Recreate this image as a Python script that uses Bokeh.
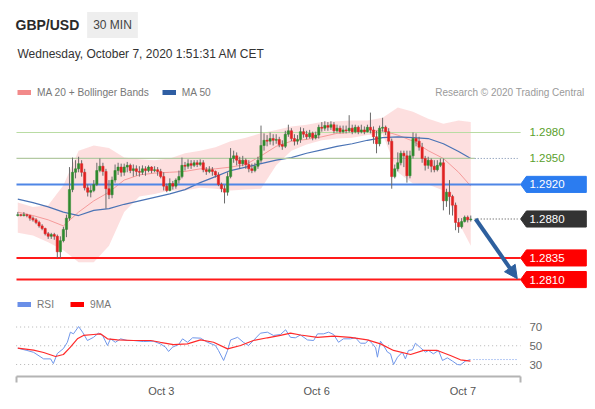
from bokeh.plotting import figure
from bokeh.models import (Range1d, LinearAxis, FixedTicker, Label, Legend, LegendItem,
                          Arrow, NormalHead, ColumnDataSource)
from bokeh.core.properties import value
from bokeh.embed import file_html
from bokeh.resources import INLINE

FONT = "Liberation Sans"

# ---------------- data (30-min candles, GBP/USD) ----------------
first_open = 1.2884
closes = [1.2885, 1.2884, 1.2885, 1.2884, 1.2881, 1.2879, 1.2876, 1.2872, 1.2869, 1.2863,
          1.2860, 1.2862, 1.2860, 1.2842, 1.2855, 1.2868, 1.2881, 1.2914, 1.2934, 1.2938,
          1.2944, 1.2934, 1.2916, 1.2911, 1.2913, 1.2920, 1.2936, 1.2941, 1.2935, 1.2915,
          1.2908, 1.2925, 1.2936, 1.2940, 1.2934, 1.2940, 1.2942, 1.2936, 1.2938, 1.2935,
          1.2934, 1.2938, 1.2936, 1.2940, 1.2936, 1.2937, 1.2935, 1.2929, 1.2918, 1.2913,
          1.2921, 1.2918, 1.2925, 1.2929, 1.2942, 1.2941, 1.2944, 1.2942, 1.2945, 1.2943,
          1.2945, 1.2937, 1.2935, 1.2937, 1.2935, 1.2931, 1.2920, 1.2915, 1.2911, 1.2929,
          1.2950, 1.2953, 1.2948, 1.2944, 1.2948, 1.2943, 1.2938, 1.2936, 1.2941, 1.2948,
          1.2965, 1.2971, 1.2970, 1.2973, 1.2971, 1.2972, 1.2966, 1.2964, 1.2978, 1.2982,
          1.2973, 1.2970, 1.2972, 1.2981, 1.2978, 1.2975, 1.2979, 1.2974, 1.2977, 1.2986,
          1.2985, 1.2988, 1.2986, 1.2989, 1.2982, 1.2985, 1.2981, 1.2983, 1.2982, 1.2985,
          1.2981, 1.2986, 1.2981, 1.2983, 1.2981, 1.2986, 1.2983, 1.2975, 1.2967, 1.2985,
          1.2986, 1.2981, 1.2970, 1.2929, 1.2938, 1.2945, 1.2956, 1.2953, 1.2930, 1.2953,
          1.2973, 1.2970, 1.2963, 1.2950, 1.2942, 1.2948, 1.2941, 1.2937, 1.2942, 1.2945,
          1.2901, 1.2911, 1.2906, 1.2896, 1.2876, 1.2871, 1.2877, 1.2882, 1.2879, 1.2880]
highs = [1.2888, 1.2886, 1.2888, 1.2886, 1.2885, 1.2883, 1.2881, 1.2878, 1.2874, 1.2870,
         1.2865, 1.2864, 1.2864, 1.2862, 1.2860, 1.2871, 1.2885, 1.2940, 1.2951, 1.2948,
         1.2952, 1.2948, 1.2938, 1.2920, 1.2919, 1.2925, 1.2945, 1.2950, 1.2945, 1.2938,
         1.2925, 1.2929, 1.2943, 1.2945, 1.2944, 1.2944, 1.2946, 1.2944, 1.2943, 1.2942,
         1.2941, 1.2942, 1.2941, 1.2942, 1.2941, 1.2941, 1.2940, 1.2938, 1.2934, 1.2921,
         1.2927, 1.2924, 1.2927, 1.2936, 1.2951, 1.2946, 1.2949, 1.2948, 1.2948, 1.2948,
         1.2949, 1.2948, 1.2940, 1.2941, 1.2940, 1.2936, 1.2934, 1.2922, 1.2919, 1.2934,
         1.2962, 1.2959, 1.2957, 1.2952, 1.2953, 1.2950, 1.2948, 1.2944, 1.2945, 1.2952,
         1.2988, 1.2979, 1.2977, 1.2980, 1.2978, 1.2978, 1.2975, 1.2971, 1.2982, 1.2989,
         1.2985, 1.2978, 1.2977, 1.2986, 1.2985, 1.2982, 1.2983, 1.2981, 1.2981, 1.2989,
         1.2992, 1.2993, 1.2992, 1.2993, 1.2992, 1.2989, 1.2988, 1.2988, 1.2988, 1.3000,
         1.2989, 1.2989, 1.2988, 1.2989, 1.2987, 1.2989, 1.3003, 1.2987, 1.2982, 1.2988,
         1.2997, 1.2988, 1.2985, 1.2973, 1.2943, 1.2957, 1.2959, 1.2959, 1.2959, 1.2959,
         1.2980, 1.2979, 1.2975, 1.2968, 1.2953, 1.2952, 1.2950, 1.2948, 1.2948, 1.2950,
         1.2950, 1.2915, 1.2925, 1.2908, 1.2899, 1.2881, 1.2881, 1.2884, 1.2884, 1.2884]
lows = [1.2883, 1.2883, 1.2883, 1.2882, 1.2878, 1.2877, 1.2874, 1.2870, 1.2867, 1.2861,
        1.2857, 1.2857, 1.2856, 1.2835, 1.2835, 1.2853, 1.2859, 1.2878, 1.2911, 1.2927,
        1.2934, 1.2929, 1.2913, 1.2906, 1.2905, 1.2911, 1.2918, 1.2934, 1.2930, 1.2892,
        1.2903, 1.2904, 1.2922, 1.2931, 1.2929, 1.2930, 1.2934, 1.2933, 1.2929, 1.2930,
        1.2929, 1.2931, 1.2930, 1.2934, 1.2933, 1.2934, 1.2930, 1.2927, 1.2913, 1.2911,
        1.2912, 1.2914, 1.2915, 1.2921, 1.2927, 1.2936, 1.2938, 1.2938, 1.2940, 1.2940,
        1.2941, 1.2934, 1.2931, 1.2933, 1.2930, 1.2928, 1.2918, 1.2911, 1.2898, 1.2907,
        1.2927, 1.2945, 1.2942, 1.2938, 1.2941, 1.2938, 1.2934, 1.2933, 1.2934, 1.2938,
        1.2945, 1.2959, 1.2964, 1.2966, 1.2965, 1.2967, 1.2963, 1.2960, 1.2962, 1.2975,
        1.2970, 1.2965, 1.2966, 1.2968, 1.2974, 1.2972, 1.2973, 1.2971, 1.2972, 1.2973,
        1.2981, 1.2982, 1.2982, 1.2983, 1.2979, 1.2980, 1.2979, 1.2979, 1.2979, 1.2980,
        1.2978, 1.2979, 1.2978, 1.2979, 1.2978, 1.2980, 1.2979, 1.2967, 1.2956, 1.2964,
        1.2981, 1.2977, 1.2966, 1.2915, 1.2927, 1.2935, 1.2942, 1.2940, 1.2922, 1.2927,
        1.2950, 1.2964, 1.2959, 1.2945, 1.2936, 1.2938, 1.2934, 1.2934, 1.2935, 1.2940,
        1.2890, 1.2894, 1.2885, 1.2884, 1.2867, 1.2864, 1.2869, 1.2876, 1.2876, 1.2877]
opens = [first_open] + closes[:-1]

# moving averages / Bollinger bands sampled every 5 candles
band_idx = [0, 5, 10, 15, 20, 25, 30, 35, 40, 45, 50, 55, 60, 65, 70, 75, 80, 85, 90, 95,
            100, 105, 110, 115, 120, 125, 130, 135, 140, 145, 149]
ma20 = [1.2888, 1.2884, 1.2879, 1.2872, 1.2888, 1.2901, 1.2911, 1.2925, 1.2931, 1.2933,
        1.2934, 1.2935, 1.2938, 1.2938, 1.2940, 1.2943, 1.2953, 1.2964, 1.2970, 1.2972,
        1.2975, 1.2979, 1.2980, 1.2982, 1.2982, 1.2977, 1.2970, 1.2959, 1.2950, 1.2934, 1.2918]
ma50 = [1.2903, 1.2899, 1.2894, 1.2888, 1.2884, 1.2890, 1.2892, 1.2897, 1.2901, 1.2905,
        1.2909, 1.2914, 1.2922, 1.2929, 1.2936, 1.2940, 1.2944, 1.2948, 1.2951, 1.2956,
        1.2960, 1.2964, 1.2967, 1.2971, 1.2974, 1.2975, 1.2974, 1.2973, 1.2967, 1.2958, 1.2950]
bb_upper = [1.2899, 1.2894, 1.2896, 1.2919, 1.2959, 1.2965, 1.2962, 1.2951, 1.2949, 1.2948,
            1.2950, 1.2956, 1.2959, 1.2963, 1.2970, 1.2974, 1.2979, 1.2983, 1.2987, 1.2989,
            1.2992, 1.2993, 1.2994, 1.2994, 1.2997, 1.3009, 1.3004, 1.2996, 1.2990, 1.2994, 1.2992]
bb_lower = [1.2864, 1.2861, 1.2853, 1.2844, 1.2830, 1.2830, 1.2849, 1.2888, 1.2906, 1.2909,
            1.2913, 1.2913, 1.2916, 1.2915, 1.2913, 1.2914, 1.2915, 1.2942, 1.2959, 1.2966,
            1.2971, 1.2973, 1.2974, 1.2977, 1.2978, 1.2934, 1.2921, 1.2920, 1.2913, 1.2876, 1.2849]

# RSI panel
rsi_idx = [0, 3, 5.2, 8.5, 10.8, 11.7, 13, 15, 16.3, 17.3, 18.3, 20, 21.3, 22.9, 24.9, 26.5,
           27.9, 29.5, 30.5, 32.1, 33.8, 36, 38, 41.3, 44.6, 46.9, 48.6, 49.6, 50.9, 52.9,
           54.2, 55.8, 57.5, 60.1, 62.4, 65, 66, 67.7, 69, 70, 72.3, 74.2, 75.9, 77.5, 79.8,
           82.1, 84.1, 86.4, 88.1, 89.7, 91.3, 93, 95.3, 97.3, 98.6, 100.6, 102.2, 103.9,
           105.5, 107.1, 109.4, 111.1, 112.7, 114.4, 115.4, 116.7, 117.7, 118.3, 119.3, 120.3,
           121.6, 122.6, 123.6, 124.9, 126.5, 127.5, 128.5, 129.8, 130.8, 132.5, 134.1, 135.1,
           136.7, 138.4, 139.7, 141.3, 143, 144.6, 145.6, 147.2, 148.9]
rsi = [47.4, 45, 43, 36, 36, 31, 41.7, 47, 53.7, 64.5, 62.7, 70.5, 64.5, 55.6, 59, 63.4,
       61, 50.3, 57.4, 53.7, 57.4, 55.6, 55.6, 54.5, 54.9, 52, 48.5, 43.9, 48.5, 51.3,
       57.4, 53.7, 58.5, 58.1, 53.7, 50.3, 45, 34.3, 45, 56.2, 59, 53.7, 50.3, 55.6, 63.4,
       64.5, 61, 62, 67, 59, 58.5, 61.5, 56.2, 55.6, 62.7, 62.7, 64.5, 62,
       53.7, 57.4, 57.4, 58.5, 52.7, 52.7, 56.2, 52, 47.8, 37.8, 54.9, 50.3,
       43.2, 41.4, 30, 37.8, 43.2, 36, 45, 45.6, 52.7, 47.8, 43.2, 45,
       41.4, 45, 34.3, 37.1, 33.6, 30, 29.6, 33.6, 35.3]
ma9_idx = [0, 5.2, 8.5, 12.4, 15, 17.3, 19.6, 21.6, 24.9, 27.2, 29.5, 32.8, 38, 43.7, 46.9,
           51.2, 55.8, 60.1, 64.4, 69, 73.3, 77.5, 82.1, 86.4, 89.7, 93, 98.6, 103.9, 109.4,
           115, 119.3, 123.6, 129.2, 133.5, 138, 142.3, 145.6, 148.9]
rsi_ma9 = [47.4, 45.3, 42.8, 38.5, 40.7, 48.5, 57.4, 61, 62, 62.7, 57.4, 56.2, 55.6, 55.6, 53.7,
           51.3, 52, 56.2, 53.7, 46.7, 50.3, 55.6, 58.5, 61, 63.4, 61.5, 59, 60.2, 59,
           56.2, 52, 45, 40.7, 45, 45, 39.6, 35, 33.6]
rsi_levels = [70, 50, 30]

# key levels
resistances = [1.2980, 1.2950]
pivot = 1.2920
supports = [1.2835, 1.2810]
arrow_target = 1.2811

date_ticks = [47.2, 98.3, 146.4]
date_labels = ["Oct 3", "Oct 6", "Oct 7"]

# ---------------- layout constants (candle-index units) ----------------
X0, X1 = -5.69, 190.03          # x-range spanning the whole canvas width
LEFT = -0.43                    # left edge of the drawing area
AX0, AX1 = -0.55, 165.4         # axis extent
TIP, RL, RR = 165.4, 167.3, 187.0
TXT = 168.3
EXT0, EXT1 = 150.3, 164.4
BADGE_H = 0.00093

p = figure(width=595, height=409, output_backend="svg", toolbar_location=None,
           x_range=Range1d(X0, X1), y_range=Range1d(1.269792, 1.313260),
           min_border_left=0, min_border_right=0, min_border_top=0, min_border_bottom=33,
           x_axis_location=None, y_axis_location=None)
p.extra_y_ranges = {"rsi": Range1d(17.2, 418.3)}
p.grid.visible = False
p.outline_line_color = None
p.background_fill_color = "white"
p.border_fill_color = "white"

# Bollinger band + moving averages
p.varea(x=band_idx, y1=bb_lower, y2=bb_upper, fill_color="#fdd9d9", fill_alpha=0.85)
p.line(band_idx, ma20, line_color="#f59a9a", line_width=1)
p.line(band_idx, ma50, line_color="#4a73b5", line_width=1.2)

# level lines
p.segment(x0=[LEFT], x1=[TIP], y0=[resistances[0]], y1=[resistances[0]],
          line_color="#b9dca3", line_width=1.2)
p.segment(x0=[LEFT], x1=[EXT0], y0=[resistances[1]], y1=[resistances[1]],
          line_color="#b3c9a2", line_width=1.2)
p.segment(x0=[LEFT], x1=[TIP], y0=[pivot], y1=[pivot], line_color="#4f86e6", line_width=2)
for lv in supports:
    p.segment(x0=[LEFT], x1=[TIP], y0=[lv], y1=[lv], line_color="#ff1a1a", line_width=2)

# dotted extensions
p.segment(x0=[EXT0], x1=[EXT1], y0=[ma50[-1]], y1=[ma50[-1]], line_color="#6f86a8",
          line_width=1, line_dash="1 2")
p.segment(x0=[EXT0], x1=[EXT1], y0=[closes[-1]], y1=[closes[-1]], line_color="#444444",
          line_width=1, line_dash="1 2")

# candles
idx = list(range(len(closes)))
cs = ColumnDataSource(dict(
    x=idx, h=highs, l=lows,
    top=[max(o, c) for o, c in zip(opens, closes)],
    bottom=[min(o, c) for o, c in zip(opens, closes)],
    color=["#2f8a2f" if c >= o else "#e02222" for o, c in zip(opens, closes)]))
p.segment(x0="x", y0="l", x1="x", y1="h", source=cs, line_color="#6a6a6a", line_width=1)
p.vbar(x="x", top="top", bottom="bottom", width=0.75, source=cs,
       fill_color="color", line_color="color", line_width=0.5)

# badges
badge_levels = [pivot, closes[-1]] + supports
badge_colors = ["#2b7cf0", "#333333", "#ff0000", "#ff0000"]
p.patches(xs=[[TIP, RL, RR, RR, RL] for _ in badge_levels],
          ys=[[lv, lv + BADGE_H, lv + BADGE_H, lv - BADGE_H, lv - BADGE_H] for lv in badge_levels],
          fill_color=badge_colors, line_color=badge_colors)
lab_src = ColumnDataSource(dict(
    x=[TXT] * 6, y=resistances + badge_levels,
    t=["%.4f" % v for v in resistances + badge_levels],
    c=["#5aa02c", "#5aa02c", "white", "white", "white", "white"]))
p.text(x="x", y="y", text="t", text_color="c", source=lab_src, text_font=value(FONT),
       text_font_size="11.5px", text_baseline="middle", text_align="left")

# arrow
p.add_layout(Arrow(end=NormalHead(size=13, fill_color="#2d5f9e", line_color="#2d5f9e"),
                   x_start=150.6, y_start=closes[-1], x_end=164.3, y_end=arrow_target,
                   line_color="#2d5f9e", line_width=4))

# RSI panel
for lv in rsi_levels:
    p.segment(x0=[AX0], x1=[TIP], y0=[lv], y1=[lv], y_range_name="rsi",
              line_color="#b5b5b5", line_width=1, line_dash="1 3")
p.line(rsi_idx, rsi, y_range_name="rsi", line_color="#7097ea", line_width=1)
p.line(ma9_idx, rsi_ma9, y_range_name="rsi", line_color="#ff2a2a", line_width=1.2)
p.segment(x0=[rsi_idx[-1] + 1], x1=[EXT1], y0=[rsi[-1]], y1=[rsi[-1]], y_range_name="rsi",
          line_color="#7097ea", line_width=1, line_dash="1 2")
p.text(x=[TXT] * 3, y=rsi_levels, text=[str(v) for v in rsi_levels], y_range_name="rsi",
       text_font=value(FONT), text_font_size="11.5px", text_color="#666666",
       text_baseline="middle")

# x axis
xaxis = LinearAxis(ticker=FixedTicker(ticks=date_ticks, minor_ticks=[AX0, AX1]),
                   major_label_overrides={t: l for t, l in zip(date_ticks, date_labels)},
                   bounds=(AX0, AX1),
                   axis_line_color="#b4b4b4", axis_line_width=2,
                   major_tick_line_color=None, major_tick_out=0, major_tick_in=0,
                   minor_tick_line_color="#b4b4b4", minor_tick_line_width=2,
                   minor_tick_out=6, minor_tick_in=0,
                   major_label_text_font=FONT, major_label_text_font_size="11px",
                   major_label_text_color="#555555", major_label_standoff=2)
p.add_layout(xaxis, "below")

# legends (swatch renderers hold no visible point)
nan = float("nan")
sw_ma20 = p.line(x=[nan], y=[nan], line_color="#f28a8a", line_width=5)
sw_ma50 = p.line(x=[nan], y=[nan], line_color="#2f5ea3", line_width=5)
sw_rsi = p.line(x=[nan], y=[nan], line_color="#6a8fe8", line_width=5)
sw_9ma = p.line(x=[nan], y=[nan], line_color="#ff0000", line_width=5)
for items, loc in (([("MA 20 + Bollinger Bands", sw_ma20), ("MA 50", sw_ma50)], (17, 278)),
                   ([("RSI", sw_rsi), ("9MA", sw_9ma)], (17, 66))):
    lg = Legend(items=[LegendItem(label=l, renderers=[r]) for l, r in items],
                orientation="horizontal", location=loc, padding=0, margin=0, spacing=13,
                glyph_width=14, glyph_height=12, label_standoff=6, label_height=12,
                label_text_font=FONT, label_text_font_size="10.2px", label_text_color="#777777",
                border_line_color=None, background_fill_alpha=0)
    p.add_layout(lg)

# header texts (screen units measured from the frame's bottom-left)
p.add_layout(Label(x=15, y=352, x_units="screen", y_units="screen", text="GBP/USD",
                   text_font=FONT, text_font_size="14px", text_font_style="bold",
                   text_color="#2a2a2a", text_baseline="middle"))
p.add_layout(Label(x=112, y=351.5, x_units="screen", y_units="screen", text="30 MIN",
                   text_font=FONT, text_font_size="12px", text_color="#444444",
                   text_baseline="middle", text_align="center",
                   background_fill_color="#eeeeee", padding=6))
p.add_layout(Label(x=17, y=322.5, x_units="screen", y_units="screen",
                   text="Wednesday, October 7, 2020 1:51:31 AM CET",
                   text_font=FONT, text_font_size="12px", text_color="#333333",
                   text_baseline="middle"))
p.add_layout(Label(x=584, y=284, x_units="screen", y_units="screen",
                   text="Research © 2020 Trading Central",
                   text_font=FONT, text_font_size="10px", text_color="#9a9a9a",
                   text_baseline="middle", text_align="right"))

open("out.html", "w").write(file_html(p, INLINE))
